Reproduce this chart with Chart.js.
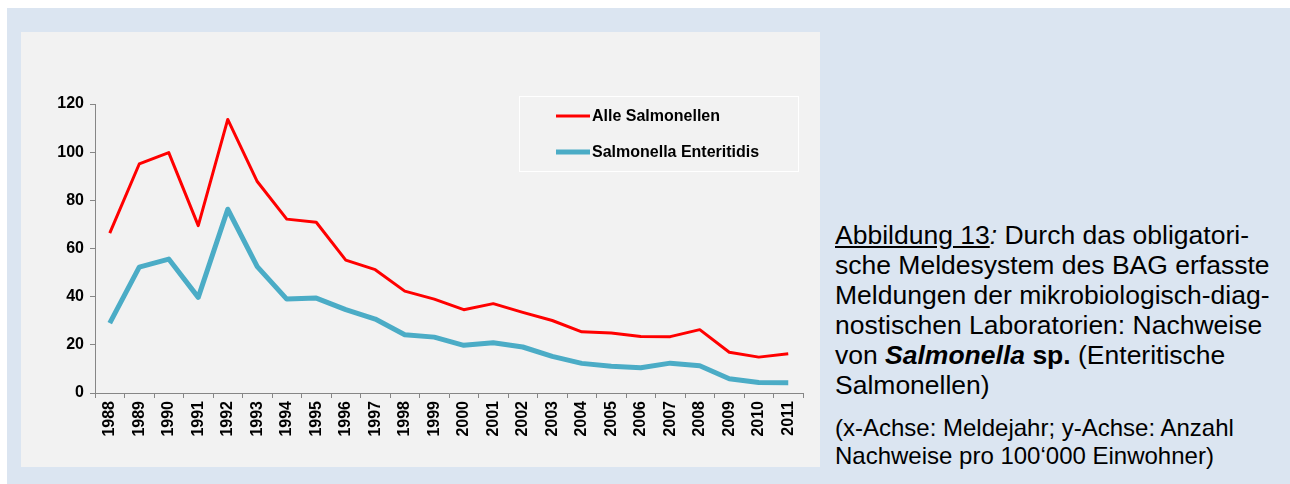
<!DOCTYPE html>
<html>
<head>
<meta charset="utf-8">
<script src="https://cdn.jsdelivr.net/npm/chart.js@4/dist/chart.umd.min.js"></script>
<style>
  body { margin: 0; background: #ffffff; }
  #blau { position: absolute; left: 7px; top: 8px; width: 1283px; height: 476px; background: #dbe5f1; }
  #panel { position: absolute; left: 21px; top: 32px; width: 799px; height: 435px; background: #f2f2f2; }
  #text { position: absolute; left: 835px; top: 220px; width: 450px; font-family: "Liberation Sans", Arial, sans-serif; color: #000; }
  #text .gross { font-size: 26.5px; line-height: 30px; }
  #text .klein { font-size: 24px; line-height: 28px; margin-top: 14px; }
</style>
</head>
<body>
<div id="blau"></div>
<div id="panel"><canvas id="grafik" width="799" height="435"></canvas></div>
<div id="text">
  <div class="gross"><u>Abbildung 13</u><i>:</i> Durch das obligatori-<br>sche Meldesystem des BAG erfasste<br>Meldungen der mikrobiologisch-diag-<br>nostischen Laboratorien: Nachweise<br>von <b><i>Salmonella</i> sp.</b> (Enteritische<br>Salmonellen)</div>
  <div class="klein">(x-Achse: Meldejahr; y-Achse: Anzahl<br>Nachweise pro 100‘000 Einwohner)</div>
</div>
<script>
// Daten
const jahre = ['1988', '1989', '1990', '1991', '1992', '1993', '1994', '1995', '1996', '1997', '1998', '1999',
    '2000', '2001', '2002', '2003', '2004', '2005', '2006', '2007', '2008', '2009', '2010', '2011'];
const alleSalmonellen = [66.4, 95.1, 99.8, 69.5, 113.6, 87.8, 72.2, 70.9, 55.2, 51.2, 42.3, 39.0,
    34.6, 37.1, 33.5, 30.1, 25.4, 24.9, 23.5, 23.4, 26.3, 16.9, 14.9, 16.3];
const enteritidis = [29.0, 52.3, 55.6, 39.7, 76.3, 52.5, 39.0, 39.4, 34.6, 30.7, 24.2, 23.2,
    19.8, 20.9, 19.1, 15.2, 12.3, 11.1, 10.5, 12.4, 11.3, 5.9, 4.4, 4.3];
const yTicks = [0, 20, 40, 60, 80, 100, 120];

const schrift = { family: 'Liberation Sans, Arial, sans-serif', size: 16, weight: 'bold' };
const achsenFarbe = '#868686';

// Legende als Kasten im Diagramm zeichnen
const legendeKasten = {
    id: 'legendeKasten',
    afterDraw(chart) {
        const ctx = chart.ctx;
        ctx.save();
        ctx.fillStyle = '#f2f2f2';
        ctx.strokeStyle = '#ffffff';
        ctx.lineWidth = 1;
        ctx.fillRect(498, 64, 279, 75);
        ctx.strokeRect(498.5, 64.5, 279, 75);
        ctx.font = 'bold 16px "Liberation Sans", Arial, sans-serif';
        ctx.textBaseline = 'middle';
        chart.data.datasets.forEach((ds, i) => {
            const y = 84 + i * 36;
            ctx.strokeStyle = ds.borderColor;
            ctx.lineWidth = ds.borderWidth;
            ctx.beginPath();
            ctx.moveTo(535, y);
            ctx.lineTo(569, y);
            ctx.stroke();
            ctx.fillStyle = '#000';
            ctx.fillText(ds.label, 571, y + 1);
        });
        ctx.restore();
    }
};

new Chart(document.getElementById('grafik').getContext('2d'), {
    type: 'line',
    data: {
        labels: jahre,
        datasets: [{
            label: 'Alle Salmonellen',
            data: alleSalmonellen,
            borderColor: '#ff0000',
            borderWidth: 3,
            pointRadius: 0,
            tension: 0,
            borderJoinStyle: 'round'
        }, {
            label: 'Salmonella Enteritidis',
            data: enteritidis,
            borderColor: '#4bacc6',
            borderWidth: 5,
            pointRadius: 0,
            tension: 0,
            borderJoinStyle: 'round'
        }]
    },
    options: {
        responsive: false,
        animation: false,
        devicePixelRatio: 1,
        layout: { padding: { left: 0, top: 72, right: 17, bottom: 0 } },
        plugins: { legend: { display: false }, tooltip: { enabled: false } },
        scales: {
            x: {
                offset: true,
                grid: { offset: true, drawOnChartArea: false, tickLength: 5, color: achsenFarbe },
                border: { color: achsenFarbe, width: 1 },
                ticks: { color: '#000', font: schrift, minRotation: 90, maxRotation: 90, autoSkip: false, padding: 3 },
                afterFit(scale) { scale.height = 74; }
            },
            y: {
                min: 0,
                max: 120,
                afterBuildTicks(scale) { scale.ticks = yTicks.map(v => ({ value: v })); },
                grid: { drawOnChartArea: false, tickLength: 5, color: achsenFarbe },
                border: { color: achsenFarbe, width: 1 },
                ticks: { color: '#000', font: schrift, padding: 6 },
                afterFit(scale) { scale.width = 74; }
            }
        }
    },
    plugins: [legendeKasten]
});
</script>
</body>
</html>
